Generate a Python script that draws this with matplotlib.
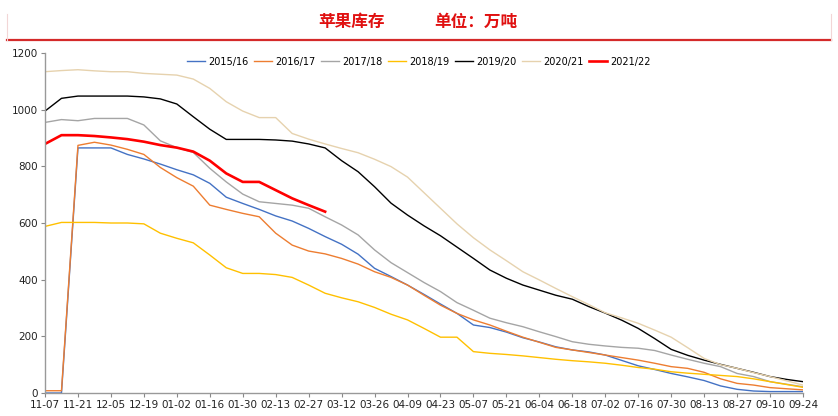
import matplotlib
matplotlib.use("Agg")
from matplotlib import pyplot as plt
import numpy as np

plt.rcParams['font.family'] = ['Liberation Sans Narrow', 'DejaVu Sans']

# two-week tick labels (weekly data points between them)
tick_labels = ['11-07', '11-21', '12-05', '12-19', '01-02', '01-16', '01-30', '02-13',
               '02-27', '03-12', '03-26', '04-09', '04-23', '05-07', '05-21', '06-04',
               '06-18', '07-02', '07-16', '07-30', '08-13', '08-27', '09-10', '09-24']

s2015 = [0, 0, 865, 865, 865, 842, 826, 808, 788, 770, 740, 691, 669, 648, 625, 607,
         581, 552, 525, 490, 440, 411, 381, 348, 314, 281, 240, 231, 215, 195, 180, 163,
         152, 145, 134, 115, 96, 83, 69, 57, 44, 25, 13, 7, 5, 5, 5]
s2016 = [8, 8, 874, 885, 875, 860, 842, 796, 760, 730, 663, 648, 634, 622, 564, 522,
         501, 491, 475, 455, 428, 408, 381, 345, 310, 281, 258, 240, 218, 197, 179, 161,
         152, 143, 134, 125, 116, 105, 93, 87, 73, 50, 34, 28, 19, 15, 11]
s2017 = [955, 965, 961, 969, 969, 969, 946, 890, 866, 849, 793, 745, 702, 675, 669, 663,
         652, 622, 593, 558, 505, 460, 425, 390, 358, 319, 292, 264, 248, 234, 216, 199,
         181, 172, 166, 161, 158, 150, 134, 119, 105, 93, 69, 58, 40, 31, 22]
s2018 = [588, 602, 602, 602, 600, 600, 597, 564, 546, 530, 487, 442, 422, 422, 418, 408,
         381, 352, 336, 322, 302, 278, 258, 228, 197, 197, 146, 140, 136, 131, 125, 119,
         114, 110, 105, 98, 90, 84, 75, 70, 66, 62, 58, 50, 40, 30, 20]
s2019 = [995, 1040, 1048, 1048, 1048, 1048, 1045, 1038, 1020, 975, 931, 895, 895, 895, 893, 889,
         879, 865, 820, 781, 728, 670, 628, 590, 555, 515, 475, 434, 405, 381, 363, 345,
         331, 305, 282, 257, 228, 192, 154, 133, 116, 101, 87, 73, 58, 48, 40]
s2020 = [1134, 1138, 1141, 1137, 1134, 1134, 1128, 1125, 1122, 1108, 1075, 1028, 995, 972, 972, 916,
         896, 879, 863, 848, 825, 799, 762, 707, 652, 597, 548, 505, 467, 428, 399, 369,
         340, 312, 283, 265, 246, 222, 197, 160, 122, 100, 87, 72, 58, 43, 28]
s2021 = [879, 910, 910, 907, 902, 896, 887, 875, 866, 852, 820, 775, 745, 745, 716, 687,
         663, 640]

series = [
    ('2015/16', s2015, '#4472C4', 1.0),
    ('2016/17', s2016, '#ED7D31', 1.0),
    ('2017/18', s2017, '#A5A5A5', 1.0),
    ('2018/19', s2018, '#FFC000', 1.0),
    ('2019/20', s2019, '#000000', 1.0),
    ('2020/21', s2020, '#E6D2AE', 1.0),
    ('2021/22', s2021, '#FF0000', 1.9),
]

fig = plt.figure(figsize=(8.38, 4.16), dpi=100)
ax = fig.add_axes([45 / 838, 23 / 416, 758 / 838, 340 / 416])

for name, vals, color, lw in series:
    ax.plot(np.arange(len(vals)), vals, color=color, linewidth=lw, label=name)

ax.set_xlim(0, len(s2015) - 1)
ax.set_ylim(0, 1200)
ax.set_yticks(np.arange(0, 1201, 200))
ax.set_xticks(np.arange(0, len(s2015), 2))
ax.set_xticklabels(tick_labels)
ax.tick_params(axis='both', labelsize=7.5, colors='#888888', labelcolor='#222222', length=3, width=0.8)
ax.tick_params(axis='x', pad=2)
ax.tick_params(axis='y', pad=2)

for side in ['top', 'right']:
    ax.spines[side].set_visible(False)
for side in ['left', 'bottom']:
    ax.spines[side].set_color('#999999')
    ax.spines[side].set_linewidth(1.0)

leg = ax.legend(loc='upper center', bbox_to_anchor=(0.493, 1.015), ncol=7, frameon=False,
                fontsize=7.0, handlelength=1.9, columnspacing=0.55, handletextpad=0.3)

# title band
cjk = ['Noto Sans CJK SC', 'DejaVu Sans']
fig.text(351 / 838, 1 - 22 / 416, '苹果库存', color='#E01010', fontsize=12,
         fontweight='bold', family=cjk, ha='center', va='center')
fig.text(476 / 838, 1 - 22 / 416, '单位：万吨', color='#E01010', fontsize=12,
         fontweight='bold', family=cjk, ha='center', va='center')
fig.add_artist(plt.Line2D([7 / 838, 831 / 838], [1 - 40 / 416, 1 - 40 / 416],
                          color='#D42A2A', linewidth=1.6))
fig.add_artist(plt.Line2D([7 / 838, 7 / 838], [1 - 40 / 416, 1 - 14 / 416],
                          color='#F2D6D6', linewidth=0.8))
fig.add_artist(plt.Line2D([831 / 838, 831 / 838], [1 - 40 / 416, 1 - 14 / 416],
                          color='#F2D6D6', linewidth=0.8))

fig.savefig('out.png', dpi=100)
